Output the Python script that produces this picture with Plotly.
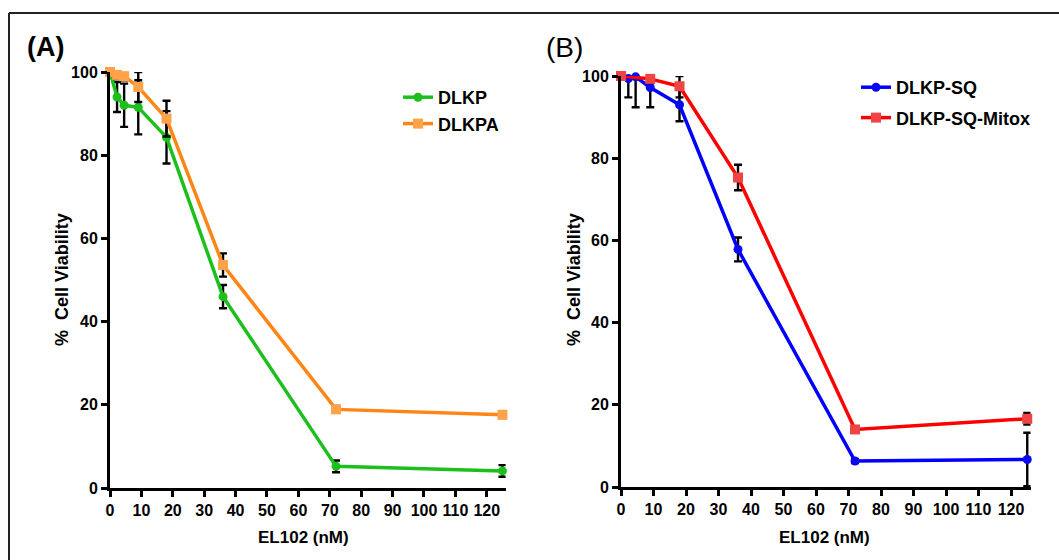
import plotly.graph_objects as go

W, H = 1059, 560

# ---------------- data ----------------
dose_a = [0, 2.25, 4.5, 9, 18, 36, 72, 125]
dlkp = [100, 94, 92, 91.5, 84.3, 46, 5.2, 4.1]
dlkp_err_plus = [0, 3.6, 5.2, 6.5, 6.3, 2.8, 1.4, 1.4]
dlkp_err_minus = [0, 3.6, 5.2, 6.5, 6.3, 2.8, 1.4, 1.4]
dlkpa = [100, 99.3, 99, 96.4, 88.8, 53.6, 18.9, 17.6]
dlkpa_err_plus = [0, 0.7, 1.0, 3.6, 4.3, 2.8, 0.8, 0.8]
dlkpa_err_minus = [0, 1.0, 1.0, 3.6, 4.3, 2.8, 0.8, 0.8]

dose_sq = [0, 2.25, 4.5, 9, 18, 36, 72, 125]
dlkp_sq = [100, 99.4, 99.8, 97.2, 93.0, 57.8, 6.3, 6.7]
dlkp_sq_err_plus = [0, 0.6, 0.2, 2.8, 4.0, 2.9, 0.5, 6.5]
dlkp_sq_err_minus = [0, 4.6, 7.4, 4.8, 4.0, 2.9, 0.5, 6.5]

dose_mx = [0, 9, 18, 36, 72, 125]
dlkp_sq_mitox = [100, 99.3, 97.5, 75.3, 14.0, 16.6]
dlkp_sq_mitox_err_plus = [0, 0.7, 2.5, 3.1, 0.5, 1.4]
dlkp_sq_mitox_err_minus = [0, 1.0, 2.7, 3.1, 0.5, 1.4]

x_ticks = list(range(0, 121, 10))
y_ticks = [0, 20, 40, 60, 80, 100]

# ---------------- helpers ----------------
def px_x(p):
    return p / W

def px_y(p):
    return 1 - p / H

def err(plus, minus):
    return dict(type="data", symmetric=False, array=plus, arrayminus=minus,
                color="black", thickness=2.4, width=4)

fig = go.Figure()

fig.add_trace(go.Scatter(
    x=dose_a, y=dlkp, name="DLKP", mode="lines+markers",
    line=dict(color="#1CBF1C", width=3.5),
    marker=dict(symbol="circle", size=9, color="#1CBF1C"),
    error_y=err(dlkp_err_plus, dlkp_err_minus),
    xaxis="x", yaxis="y", legend="legend", cliponaxis=False,
))
fig.add_trace(go.Scatter(
    x=dose_a, y=dlkpa, name="DLKPA", mode="lines+markers",
    line=dict(color="#FF8616", width=3.5),
    marker=dict(symbol="square", size=10, color="#FFA24A"),
    error_y=err(dlkpa_err_plus, dlkpa_err_minus),
    xaxis="x", yaxis="y", legend="legend", cliponaxis=False,
))
fig.add_trace(go.Scatter(
    x=dose_sq, y=dlkp_sq, name="DLKP-SQ", mode="lines+markers",
    line=dict(color="#0000FF", width=3.5),
    marker=dict(symbol="circle", size=9, color="#0A0AF0"),
    error_y=err(dlkp_sq_err_plus, dlkp_sq_err_minus),
    xaxis="x2", yaxis="y2", legend="legend2", legendgroup="b1", cliponaxis=False,
))
fig.add_trace(go.Scatter(
    x=dose_mx, y=dlkp_sq_mitox, name="DLKP-SQ-Mitox", mode="lines+markers",
    line=dict(color="#FF0000", width=3.5),
    marker=dict(symbol="square", size=10, color="#F04444"),
    error_y=err(dlkp_sq_mitox_err_plus, dlkp_sq_mitox_err_minus),
    xaxis="x2", yaxis="y2", legend="legend2", legendgroup="b2", cliponaxis=False,
))

tick_font = dict(family="Liberation Sans Narrow, Arial Narrow, Liberation Sans, Arial",
                 size=16, color="black", weight="bold")

def xax(domain, anchor):
    return dict(domain=domain, anchor=anchor, range=[0, 126], tickvals=x_ticks,
                showline=True, linewidth=3, linecolor="black", ticks="outside",
                ticklen=6, tickwidth=3, tickcolor="black", showgrid=False,
                zeroline=False, tickfont=tick_font, fixedrange=True,
                automargin=False)

def yax(domain, anchor):
    return dict(domain=domain, anchor=anchor, range=[0, 100], tickvals=y_ticks,
                showline=True, linewidth=3, linecolor="black", ticks="outside",
                ticklen=6, tickwidth=3, tickcolor="black", showgrid=False,
                zeroline=False, tickfont=tick_font, fixedrange=True,
                automargin=False)

legend_font = dict(family="Liberation Sans, Arial", size=18, color="black", weight="bold")

fig.update_layout(
    template="none",
    width=W, height=H, autosize=False,
    margin=dict(l=0, r=0, t=0, b=0, pad=0),
    paper_bgcolor="white", plot_bgcolor="white",
    xaxis=xax([px_x(110), px_x(505.6)], "y"),
    yaxis=yax([px_y(488), px_y(72)], "x"),
    xaxis2=xax([px_x(621), px_x(1030.5)], "y2"),
    yaxis2=yax([px_y(487), px_y(76)], "x2"),
    legend=dict(x=px_x(398), y=px_y(79), xanchor="left", yanchor="top",
                font=legend_font, bgcolor="rgba(0,0,0,0)", itemwidth=30,
                tracegroupgap=0),
    legend2=dict(x=px_x(856), y=px_y(69), xanchor="left", yanchor="top",
                 font=legend_font, bgcolor="rgba(0,0,0,0)", itemwidth=30,
                 tracegroupgap=4),
    showlegend=True,
)

title_font = dict(family="Liberation Sans, Arial", size=18, color="black", weight="bold")
xtitle_font = dict(family="Liberation Sans, Arial", size=17, color="black", weight="bold")

def ann(text, x, y, font, angle=0):
    return dict(text=text, x=px_x(x), y=px_y(y), xref="paper", yref="paper",
                xanchor="center", yanchor="middle", showarrow=False,
                textangle=angle, font=font)

annotations = [
    ann("(A)", 45, 47, dict(family="Liberation Sans, Arial", size=27,
                            color="black", weight="bold")),
    ann("(B)", 564, 47, dict(family="Liberation Sans, Arial", size=28,
                             color="black", weight="normal")),
    ann("%  Cell Viability", 62, 280, title_font, -90),
    ann("%  Cell Viability", 574, 280, title_font, -90),
    ann("EL102 (nM)", 303, 537, xtitle_font),
    ann("EL102 (nM)", 824, 537, xtitle_font),
]
fig.update_layout(annotations=annotations)

# outer frame (top and left edges only, as in the cropped figure)
fig.update_layout(shapes=[
    dict(type="line", xref="paper", yref="paper", x0=px_x(9), x1=1.0,
         y0=px_y(13), y1=px_y(13), line=dict(color="#222222", width=2)),
    dict(type="line", xref="paper", yref="paper", x0=px_x(9), x1=px_x(9),
         y0=px_y(13), y1=0.0, line=dict(color="#222222", width=2)),
])

fig.write_html("out.html")
